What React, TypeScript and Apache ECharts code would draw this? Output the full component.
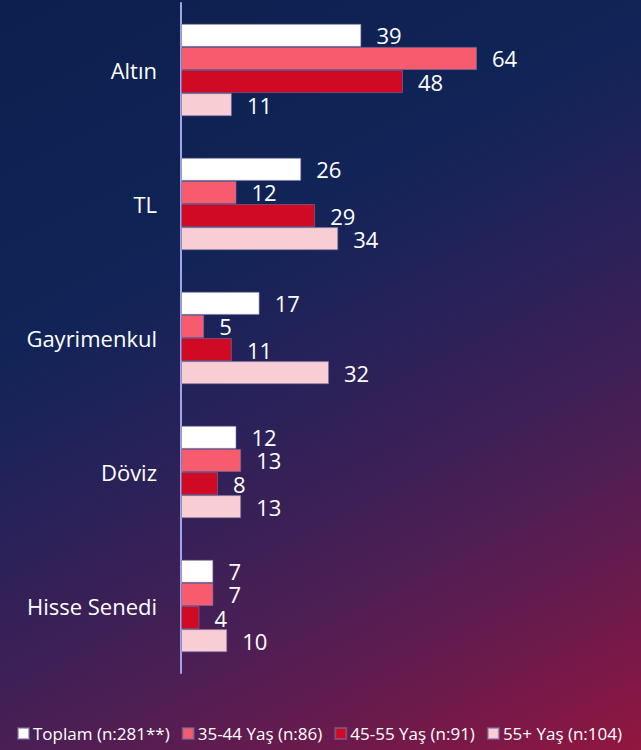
import React, { useEffect, useRef } from "react";
import * as echarts from "echarts";

const categories = ["Altın", "TL", "Gayrimenkul", "Döviz", "Hisse Senedi"];
const seriesNames = ["Toplam (n:281**)", "35-44 Yaş (n:86)", "45-55 Yaş (n:91)", "55+ Yaş (n:104)"];
const toplam = [39, 26, 17, 12, 7];
const yas3544 = [64, 12, 5, 13, 7];
const yas4555 = [48, 29, 11, 8, 4];
const yas55 = [11, 34, 32, 13, 10];
const colors = ["#ffffff", "#f65b6e", "#d00a25", "#f8cdd4"];

export default function App() {
  const ref = useRef<HTMLDivElement>(null);
  useEffect(() => {
    document.body.style.margin = "0";
    const chart = echarts.init(ref.current!, null, { renderer: "svg" });
    const values = [toplam, yas3544, yas4555, yas55];
    const font = "'Open Sans', sans-serif";
    chart.setOption({
      animation: false,
      grid: { left: 181, top: 3, height: 670, width: 370, containLabel: false },
      legend: {
        left: 17,
        right: 0,
        bottom: 8,
        padding: 0,
        icon: "rect",
        itemWidth: 11,
        itemHeight: 11,
        itemGap: 12,
        textStyle: { color: "#ffffff", fontSize: 17, fontFamily: font, padding: [0, 0, 0, -1] },
        data: seriesNames,
      },
      xAxis: { type: "value", min: 0, max: 80, show: false },
      yAxis: {
        type: "category",
        data: categories,
        inverse: true,
        axisLine: { show: true, lineStyle: { color: "#a3a3ea", width: 2 } },
        axisTick: { show: false },
        axisLabel: { color: "#ffffff", fontSize: 22, fontFamily: font, margin: 24 },
      },
      series: values.map((v, i) => ({
        name: seriesNames[i],
        type: "bar",
        data: v,
        barGap: "0%",
        barCategoryGap: "31%",
        itemStyle: { color: colors[i], borderColor: "rgba(120,110,160,0.6)", borderWidth: 1 },
        label: {
          show: true,
          position: "right",
          distance: 15,
          color: "#ffffff",
          fontSize: 22,
          lineHeight: 18,
          fontFamily: font,
        },
      })),
    });
    return () => chart.dispose();
  }, []);
  return (
    <div
      ref={ref}
      style={{
        width: 641,
        height: 750,
        background:
          "linear-gradient(153deg, #0c1f4e 0%, #112457 33%, #26225a 48%, #3a2056 61%, #4a1f55 70%, #6c1a4c 85%, #921640 100%)",
      }}
    />
  );
}
